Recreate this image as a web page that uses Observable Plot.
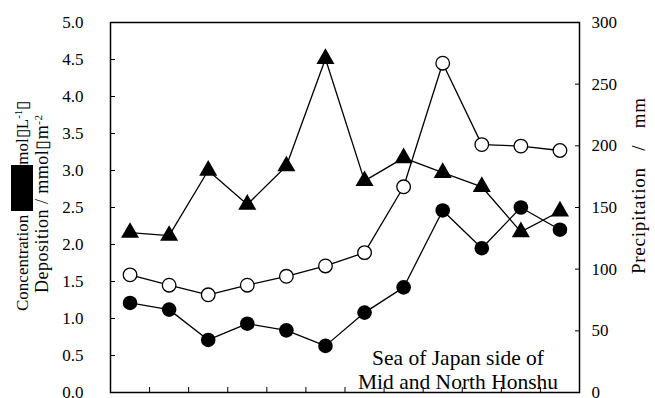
<!DOCTYPE html>
<html>
<head>
<meta charset="utf-8">
<script src="https://cdn.jsdelivr.net/npm/d3@7"></script>
<script src="https://cdn.jsdelivr.net/npm/@observablehq/plot@0.6"></script>
<style>
  html, body { margin: 0; padding: 0; background: #fff; overflow: hidden; }
  #chart svg { display: block; }
  #chart svg text { font-family: "Liberation Serif", "Times New Roman", serif !important; }
</style>
</head>
<body>
<div id="chart"></div>
<script>
// x positions: twelve monthly samples (no x tick labels in the reference)
const periods = [1, 2, 3, 4, 5, 6, 7, 8, 9, 10, 11, 12];
// series values in left-axis units (0–5)
const triangleSeries = [2.16, 2.12, 3.00, 2.54, 3.06, 4.51, 2.86, 3.17, 2.97, 2.78, 2.17, 2.45];
const openCircleSeries = [1.59, 1.45, 1.32, 1.45, 1.57, 1.71, 1.89, 2.78, 4.45, 3.35, 3.33, 3.27];
const filledCircleSeries = [1.21, 1.12, 0.71, 0.93, 0.84, 0.63, 1.08, 1.42, 2.46, 1.95, 2.50, 2.20];
// tick labels
const leftTicks = [0, 0.5, 1, 1.5, 2, 2.5, 3, 3.5, 4, 4.5, 5];
const rightTicks = [0, 50, 100, 150, 200, 250, 300];
const xBoundaries = [1.5, 2.5, 3.5, 4.5, 5.5, 6.5, 7.5, 8.5, 9.5, 10.5, 11.5];
const precipPerUnit = 60; // 300 mm ↔ 5.0
const annotation = "Sea of Japan side of\nMid and North Honshu";

const tri = periods.map((p, i) => ({x: p, y: triangleSeries[i]}));
const oc = periods.map((p, i) => ({x: p, y: openCircleSeries[i]}));
const fc = periods.map((p, i) => ({x: p, y: filledCircleSeries[i]}));

const serif = '"Liberation Serif", "Times New Roman", serif';

const chart = Plot.plot({
  width: 655,
  height: 398,
  marginLeft: 110,
  marginRight: 76,
  marginTop: 22,
  marginBottom: 6,
  style: {fontFamily: serif, fontSize: "17px", color: "#000", background: "#fff"},
  x: {domain: [0.5, 12.5], axis: null},
  y: {domain: [0, 5], axis: null},
  marks: [
    // left axis labels
    Plot.axisY({anchor: "left", label: null, ticks: leftTicks, tickSize: 0, tickPadding: 27, tickFormat: d => d.toFixed(1), fontSize: 17, fontFamily: serif}),
    // left inward ticks
    Plot.axisY({anchor: "left", label: null, ticks: leftTicks, tickSize: 5, dx: 5, tickFormat: () => "", strokeWidth: 1}),
    // right axis labels
    Plot.axisY({anchor: "right", label: null, ticks: rightTicks.map(v => v / precipPerUnit), tickSize: 0, tickPadding: 12, tickFormat: d => String(Math.round(d * precipPerUnit)), fontSize: 17, fontFamily: serif}),
    // right inward ticks
    Plot.axisY({anchor: "right", label: null, ticks: rightTicks.map(v => v / precipPerUnit), tickSize: 5, dx: -5, tickFormat: () => "", strokeWidth: 1}),
    // bottom inward ticks
    Plot.axisX({anchor: "bottom", label: null, ticks: xBoundaries, tickSize: 5, dy: -5, tickFormat: () => "", strokeWidth: 1}),
    Plot.line(tri, {x: "x", y: "y", stroke: "#000", strokeWidth: 1.3}),
    Plot.line(oc, {x: "x", y: "y", stroke: "#000", strokeWidth: 1.3}),
    Plot.line(fc, {x: "x", y: "y", stroke: "#000", strokeWidth: 1.3}),
    Plot.dot(tri, {x: "x", y: "y", symbol: "triangle", r: 6.7, fill: "#000", stroke: "none"}),
    Plot.dot(oc, {x: "x", y: "y", r: 6.8, fill: "#fff", stroke: "#000", strokeWidth: 1.3}),
    Plot.dot(fc, {x: "x", y: "y", r: 7.3, fill: "#000", stroke: "none"}),
    Plot.frame({stroke: "#000", strokeWidth: 1.5}),
    Plot.text([annotation], {
      frameAnchor: "bottom", dx: 113, dy: -4, text: d => d, lineAnchor: "bottom",
      lineHeight: 1.1, fontSize: 21.5, fontFamily: serif, fill: "#000"
    })
  ]
});
document.getElementById("chart").appendChild(chart);

// axis titles (rotated), added as real SVG text
const svg = d3.select(chart);
const t1 = svg.append("text")
  .attr("transform", "translate(28,311) rotate(-90)")
  .attr("text-anchor", "start")
  .attr("font-family", serif).attr("font-size", 17).attr("fill", "#000");
t1.append("tspan").text("Concentration");
t1.append("tspan").attr("dx", 50).text("mol\u25AFL");
t1.append("tspan").attr("dy", -6).attr("font-size", 11).text("-1");
t1.append("tspan").attr("dy", 6).text("\u25AF");
// redaction block seen in the reference
svg.append("rect").attr("x", 11).attr("y", 165).attr("width", 22).attr("height", 46).attr("fill", "#000");

const t2 = svg.append("text")
  .attr("transform", "translate(48,293) rotate(-90)")
  .attr("text-anchor", "start")
  .attr("font-family", serif).attr("font-size", 18).attr("fill", "#000")
  .attr("textLength", 178).attr("lengthAdjust", "spacing");
t2.append("tspan").text("Deposition / mmol\u25AFm");
t2.append("tspan").attr("dy", -6).attr("font-size", 11).text("-2");

svg.append("text")
  .attr("transform", "translate(645,274) rotate(-90)")
  .attr("text-anchor", "start")
  .attr("font-family", serif).attr("font-size", 19).attr("fill", "#000")
  .attr("xml:space", "preserve")
  .attr("textLength", 176).attr("lengthAdjust", "spacing")
  .text("Precipitation   /   mm");
</script>
</body>
</html>
